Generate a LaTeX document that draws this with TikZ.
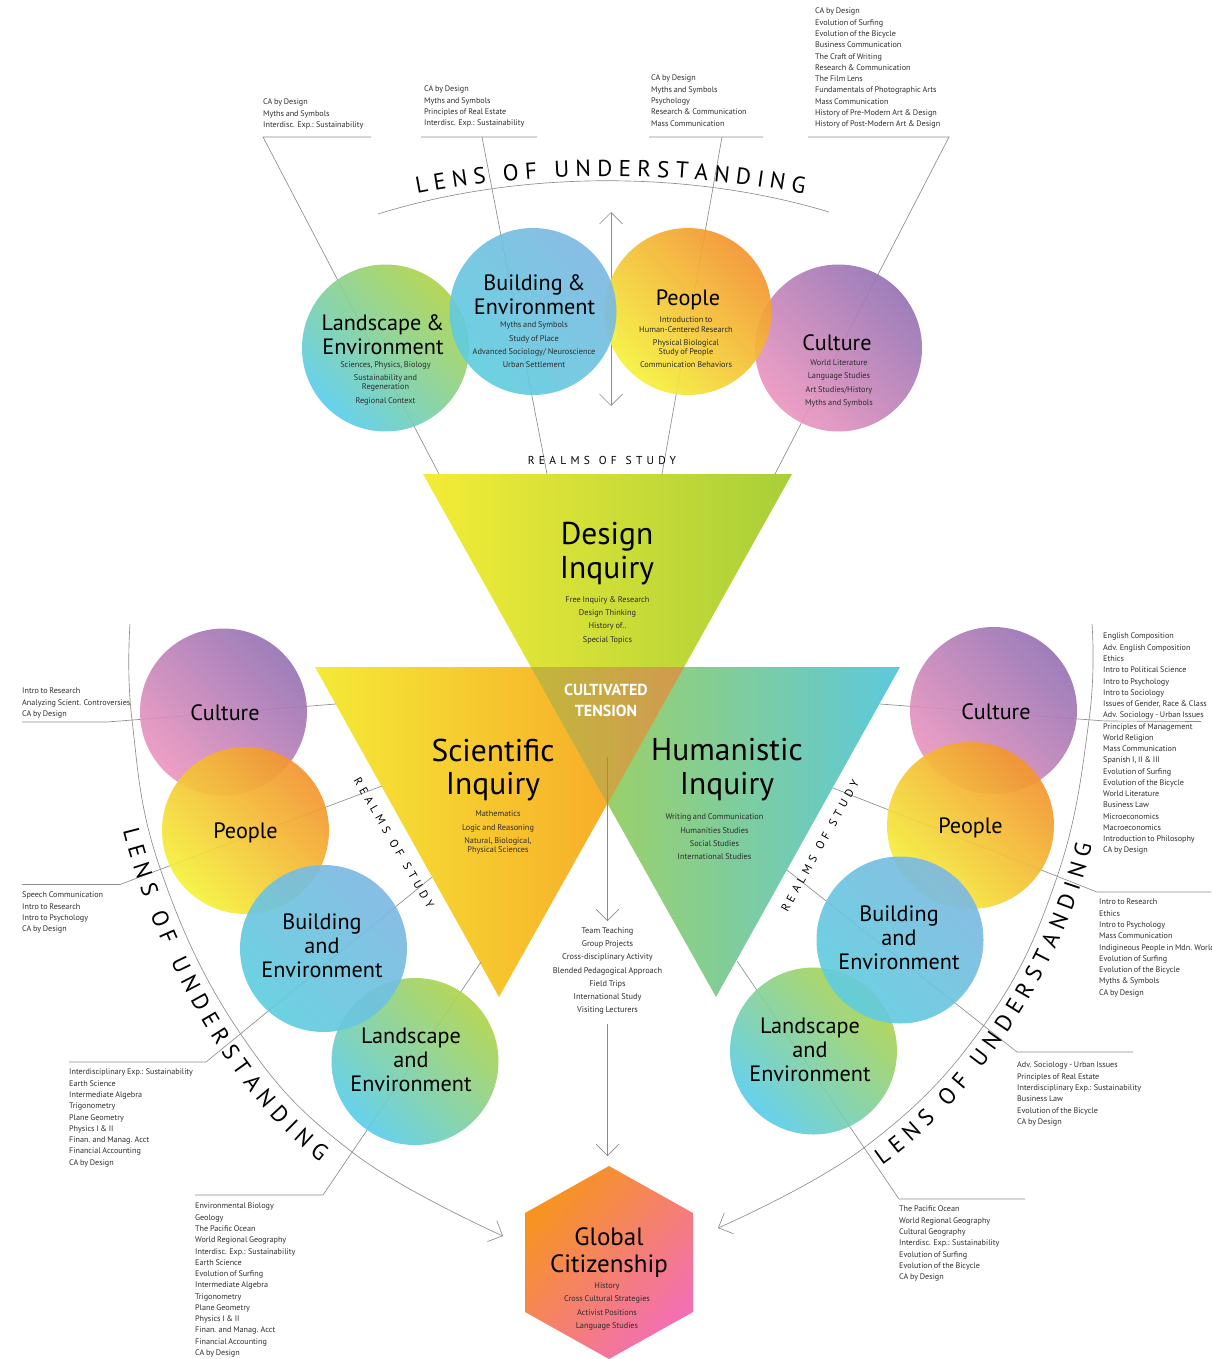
\documentclass[tikz,border=0pt]{standalone}
\usepackage{fontspec}
\setmainfont[WordSpace=0.8]{PT Sans}
\newfontfamily\realmsface[LetterSpace=37,WordSpace=1.2]{PT Sans}
\usetikzlibrary{arrows.meta,decorations.text}
\definecolor{cuA}{RGB}{150,115,180}\definecolor{cuB}{RGB}{236,151,192}
\definecolor{peA}{RGB}{243,148,48}\definecolor{peB}{RGB}{245,242,60}
\definecolor{buA}{RGB}{126,184,226}\definecolor{buB}{RGB}{96,206,222}
\definecolor{laA}{RGB}{175,212,75}\definecolor{laB}{RGB}{90,205,235}
\definecolor{wire}{RGB}{140,140,140}
\definecolor{inkA}{RGB}{45,45,45}
\newcommand{\listfont}{\fontsize{8.12}{11.26}\selectfont}
\newcommand{\subfont}{\fontsize{8.3}{13.3}\selectfont}
\newcommand{\titlefont}{\fontsize{22.2}{24}\selectfont}
\newcommand{\bigfont}{\fontsize{31.5}{33.5}\selectfont}
\newcommand{\hexfont}{\fontsize{25}{27}\selectfont}
\newcommand{\lensfont}{\fontsize{23}{23}\selectfont}
\newcommand{\realmsfont}{\realmsface\fontsize{11.5}{12}\selectfont}
\tikzset{
  wireline/.style={draw=wire,line width=0.65pt},
  barbs/.style={wireline,arrows={-Straight Barb[length=11.5pt,width=23pt,line width=0.65pt]}},
  dblbarbs/.style={wireline,arrows={Straight Barb[length=11.5pt,width=23pt,line width=0.65pt]-Straight Barb[length=11.5pt,width=23pt,line width=0.65pt]}},
  disc/.style={circle,minimum size=167pt,inner sep=0pt,fill opacity=.92,shading angle=-45},
  culturedisc/.style={disc,bottom color=cuB,top color=cuA,shading angle=-45},
  peopledisc/.style={disc,bottom color=peB,top color=peA,shading angle=-45},
  buildingdisc/.style={disc,bottom color=buB,top color=buA,shading angle=-45},
  landdisc/.style={disc,bottom color=laB,top color=laA,shading angle=-45},
  lst/.style={font=\listfont,text=inkA,align=left,anchor=north west,inner sep=0pt},
  sublst/.style={font=\subfont,text=inkA,align=center,inner sep=0pt},
  ttl/.style={font=\titlefont,text=black,align=center,inner sep=0pt},
  bigttl/.style={font=\bigfont,text=black,align=center,inner sep=0pt},
  realms/.style={font=\realmsfont,text=black,inner sep=0pt},
  lensbase/.style={decorate,decoration={text along path,text align={fit to path},text={|\lensfont|LENS OF UNDERSTANDING}}}
}
\begin{document}
\begin{tikzpicture}[x=1pt,y=-1pt]
\useasboundingbox (0,0) rectangle (1211,1359);
% triangles
\coordinate (dA) at (423,474);\coordinate (dB) at (792,474);\coordinate (dC) at (607.5,804);
\coordinate (sA) at (315,667);\coordinate (sB) at (684,667);\coordinate (sC) at (499,997);
\coordinate (hA) at (531,667);\coordinate (hB) at (900,667);\coordinate (hC) at (716,997);
\shade[left color={rgb,255:red,244;green,236;blue,54},right color={rgb,255:red,168;green,207;blue,56}] (dA)--(dB)--(dC)--cycle;
\shade[left color={rgb,255:red,244;green,234;blue,54},right color={rgb,255:red,249;green,158;blue,38}] (sA)--(sB)--(sC)--cycle;
\shade[left color={rgb,255:red,170;green,210;blue,78},right color={rgb,255:red,92;green,201;blue,220}] (hA)--(hB)--(hC)--cycle;
\shade[left color={rgb,255:red,194;green,182;blue,60},middle color={rgb,255:red,218;green,170;blue,62},right color={rgb,255:red,208;green,154;blue,80}] (hA)--(sB)--(dC)--cycle;
% hexagon
\shade[top color={rgb,255:red,247;green,148;blue,30},bottom color={rgb,255:red,243;green,111;blue,181},shading angle=48]
 (609,1166)--(693,1213)--(693,1312)--(609,1359)--(525,1312)--(525,1213)--cycle;
% named line ends
\coordinate (t1a) at (263,137);\coordinate (t1b) at (371,137);\coordinate (t1c) at (439,474);
\coordinate (t2a) at (421,137);\coordinate (t2b) at (537,137);\coordinate (t2m) at (482,137);\coordinate (t2c) at (547,474);
\coordinate (t3a) at (649,137);\coordinate (t3b) at (763,137);\coordinate (t3m) at (722,137);\coordinate (t3c) at (662,474);
\coordinate (t4a) at (808,137);\coordinate (t4b) at (949,137);\coordinate (t4c) at (775,474);
\draw[wireline] (t1b)--(t1a)--(t1c);
\draw[wireline] (t2a)--(t2b) (t2m)--(t2c);
\draw[wireline] (t3a)--(t3b) (t3m)--(t3c);
\draw[wireline] (t4a)--(t4b)--(t4c);
\coordinate (lensL) at (378,214);\coordinate (lensR) at (829,212);
\draw[wireline] (lensL) .. controls (520,170) and (690,170) .. (lensR);
\coordinate (dblT) at (611,212);\coordinate (dblB) at (611,406);
\draw[dblbarbs] (dblT)--(dblB);
% left wires
\coordinate (lc1) at (22,722);\coordinate (lc2) at (107,722);\coordinate (lc3) at (336,704);
\coordinate (lp1) at (22,884.5);\coordinate (lp2) at (120,884.5);\coordinate (lp3) at (382,786);
\coordinate (lb1) at (69,1062);\coordinate (lb2) at (206,1062);\coordinate (lb3) at (432,877);
\coordinate (ll1) at (195,1195);\coordinate (ll2) at (323,1195);\coordinate (ll3) at (481,962);
\draw[wireline] (lc1)--(lc2)--(lc3);
\draw[wireline] (lp1)--(lp2)--(lp3);
\draw[wireline] (lb1)--(lb2)--(lb3);
\draw[wireline] (ll1)--(ll2)--(ll3);
% right wires
\coordinate (rc1) at (1201,721.5);\coordinate (rc2) at (1105,721);\coordinate (rc3) at (880,704);
\coordinate (rp1) at (1211,892);\coordinate (rp2) at (1097,892);\coordinate (rp3) at (833,788);
\coordinate (rb1) at (1133,1052);\coordinate (rb2) at (1017,1052);\coordinate (rb3) at (787,870);
\coordinate (rl1) at (1025,1199);\coordinate (rl2) at (899,1199);\coordinate (rl3) at (737,961);
\draw[wireline] (rc1)--(rc2)--(rc3);
\draw[wireline] (rp1)--(rp2)--(rp3);
\draw[wireline] (rb1)--(rb2)--(rb3);
\draw[wireline] (rl1)--(rl2)--(rl3);
% arcs
\draw[barbs] plot[smooth,tension=.7] coordinates {(130,624)(132,720)(160,868)(240,1033)(352,1152)(503,1236)};
\draw[barbs] plot[smooth,tension=.7] coordinates {(1092,624)(1089,720)(1057,877)(984,1025)(865,1147)(718,1228)};
% centre arrows
\coordinate (mA) at (607.5,757);\coordinate (mB) at (607.5,921);\coordinate (mC) at (607.5,1024);\coordinate (mD) at (607.5,1156);
\draw[barbs] (mA)--(mB);
\draw[barbs] (mC)--(mD);
% discs, top row
\node[culturedisc] (topCulture) at (838.5,348) {};
\node[peopledisc] (topPeople) at (688,311.5) {};
\node[landdisc] (topLand) at (385.5,348) {};
\node[buildingdisc] (topBuilding) at (533,311.5) {};
% discs, left
\node[culturedisc] (leftCulture) at (223.5,712) {};
\node[peopledisc] (leftPeople) at (245.5,830.5) {};
\node[landdisc] (leftLand) at (415,1061.5) {};
\node[buildingdisc] (leftBuilding) at (323.5,948.5) {};
% discs, right
\node[culturedisc] (rightCulture) at (993.5,710.5) {};
\node[peopledisc] (rightPeople) at (970.5,825.5) {};
\node[landdisc] (rightLand) at (813.5,1051) {};
\node[buildingdisc] (rightBuilding) at (900,940) {};
% lens text
\path[lensbase] (417,194) .. controls (540,170) and (678,170) .. (804,194);
\path[lensbase] (123,830) .. controls (150,940) and (225,1090) .. (320,1162);
\path[lensbase] (882,1165) .. controls (968,1105) and (1062,975) .. (1092,845);
% realms
\node[realms] (realmsTop) at (602,460) {REALMS OF STUDY};
\node[realms,rotate=-60] (realmsLeft) at (394,843) {REALMS OF STUDY};
\node[realms,rotate=61] (realmsRight) at (820,846) {REALMS OF STUDY};
% titles, top
\node[ttl] (tLand) at (383,334.5) {Landscape \&\\Environment};
\node[ttl] (tBuild) at (534.5,295) {Building \&\\Environment};
\node[ttl] (tPeople) at (688,300) {People};
\node[ttl] (tCult) at (837,343) {Culture};
\node[sublst] (sLand) at (385.5,383) {Sciences, Physics, Biology\\Sustainability and\\[-4pt]Regeneration\\Regional Context};
\node[sublst] (sBuild) at (534,345) {Myths and Symbols\\Study of Place\\Advanced Sociology/ Neuroscience\\Urban Settlement};
\node[sublst] (sPeople) at (686,342) {Introduction to\\[-3.5pt]Human-Centered Research\\Physical Biological\\[-4.5pt]Study of People\\Communication Behaviors};
\node[sublst] (sCult) at (839,383.5) {World Literature\\Language Studies\\Art Studies/History\\Myths and Symbols};
% triangles text
\node[bigttl] (tDesign) at (607,553.5) {Design\\Inquiry};
\node[sublst] (sDesign) at (607.5,620) {Free Inquiry \& Research\\Design Thinking\\History of..\\Special Topics};
\node[font=\fontsize{16}{21}\selectfont\bfseries,text=white,align=center,inner sep=0pt] (tTension) at (606,700.5) {CULTIVATED\\TENSION};
\node[bigttl] (tSci) at (493,770) {Scientific\\Inquiry};
\node[sublst] (sSci) at (498,832.5) {Mathematics\\Logic and Reasoning\\Natural, Biological,\\[-4.5pt]Physical Sciences};
\node[bigttl] (tHum) at (727,769.5) {Humanistic\\Inquiry};
\node[sublst] (sHum) at (714.5,837) {Writing and Communication\\Humanities Studies\\Social Studies\\International Studies};
\node[sublst] (sMid) at (607.5,971) {Team Teaching\\Group Projects\\Cross-disciplinary Activity\\Blended Pedagogical Approach\\Field Trips\\International Study\\Visiting Lecturers};
\node[font=\hexfont,text=black,align=center,inner sep=0pt] (tGlobal) at (609,1253) {Global\\Citizenship};
\node[sublst] (sGlobal) at (607,1306.5) {History\\Cross Cultural Strategies\\Activist Positions\\Language Studies};
% titles, sides
\node[ttl] (lCult) at (225,712.5) {Culture};
\node[ttl] (lPeople) at (245.5,832.5) {People};
\node[ttl] (lBuild) at (322,946) {Building\\and\\Environment};
\node[ttl] (lLand) at (411,1059.5) {Landscape\\and\\Environment};
\node[ttl] (rCult) at (996,711.5) {Culture};
\node[ttl] (rPeople) at (970.5,827.5) {People};
\node[ttl] (rBuild) at (899,937.5) {Building\\and\\Environment};
\node[ttl] (rLand) at (810,1049.5) {Landscape\\and\\Environment};
% lists, top
\node[lst] (l1) at (263,99) {CA by Design\\Myths and Symbols\\Interdisc. Exp.: Sustainability};
\node[lst] (l2) at (424,86) {CA by Design\\Myths and Symbols\\Principles of Real Estate\\Interdisc. Exp.: Sustainability};
\node[lst] (l3) at (651,75) {CA by Design\\Myths and Symbols\\Psychology\\Research \& Communication\\Mass Communication};
\node[lst] (l4) at (815,8) {CA by Design\\Evolution of Surfing\\Evolution of the Bicycle\\Business Communication\\The Craft of Writing\\Research \& Communication\\The Film Lens\\Fundamentals of Photographic Arts\\Mass Communication\\History of Pre-Modern Art \& Design\\History of Post-Modern Art \& Design};
% lists, left
\node[lst] (l5) at (22,688) {Intro to Research\\Analyzing Scient. Controversies\\CA by Design};
\node[lst] (l6) at (22,892) {Speech Communication\\Intro to Research\\Intro to Psychology\\CA by Design};
\node[lst] (l7) at (69,1069) {Interdisciplinary Exp.: Sustainability\\Earth Science\\Intermediate Algebra\\Trigonometry\\Plane Geometry\\Physics I \& II\\Finan. and Manag. Acct\\Financial Accounting\\CA by Design};
\node[lst] (l8) at (195,1203) {Environmental Biology\\Geology\\The Pacific Ocean\\World Regional Geography\\Interdisc. Exp.: Sustainability\\Earth Science\\Evolution of Surfing\\Intermediate Algebra\\Trigonometry\\Plane Geometry\\Physics I \& II\\Finan. and Manag. Acct\\Financial Accounting\\CA by Design};
% lists, right
\node[lst] (l9) at (1103,633) {English Composition\\Adv. English Composition\\Ethics\\Intro to Political Science\\Intro to Psychology\\Intro to Sociology\\Issues of Gender, Race \& Class\\Adv. Sociology - Urban Issues\\Principles of Management\\World Religion\\Mass Communication\\Spanish I, II \& III\\Evolution of Surfing\\Evolution of the Bicycle\\World Literature\\Business Law\\Microeconomics\\Macroeconomics\\Introduction to Philosophy\\CA by Design};
\node[lst] (l10) at (1099,899) {Intro to Research\\Ethics\\Intro to Psychology\\Mass Communication\\Indigineous People in Mdn. World\\Evolution of Surfing\\Evolution of the Bicycle\\Myths \& Symbols\\CA by Design};
\node[lst] (l11) at (1017,1062) {Adv. Sociology - Urban Issues\\Principles of Real Estate\\Interdisciplinary Exp.: Sustainability\\Business Law\\Evolution of the Bicycle\\CA by Design};
\node[lst] (l12) at (899,1206) {The Pacific Ocean\\World Regional Geography\\Cultural Geography\\Interdisc. Exp.: Sustainability\\Evolution of Surfing\\Evolution of the Bicycle\\CA by Design};
\end{tikzpicture}
\end{document}
